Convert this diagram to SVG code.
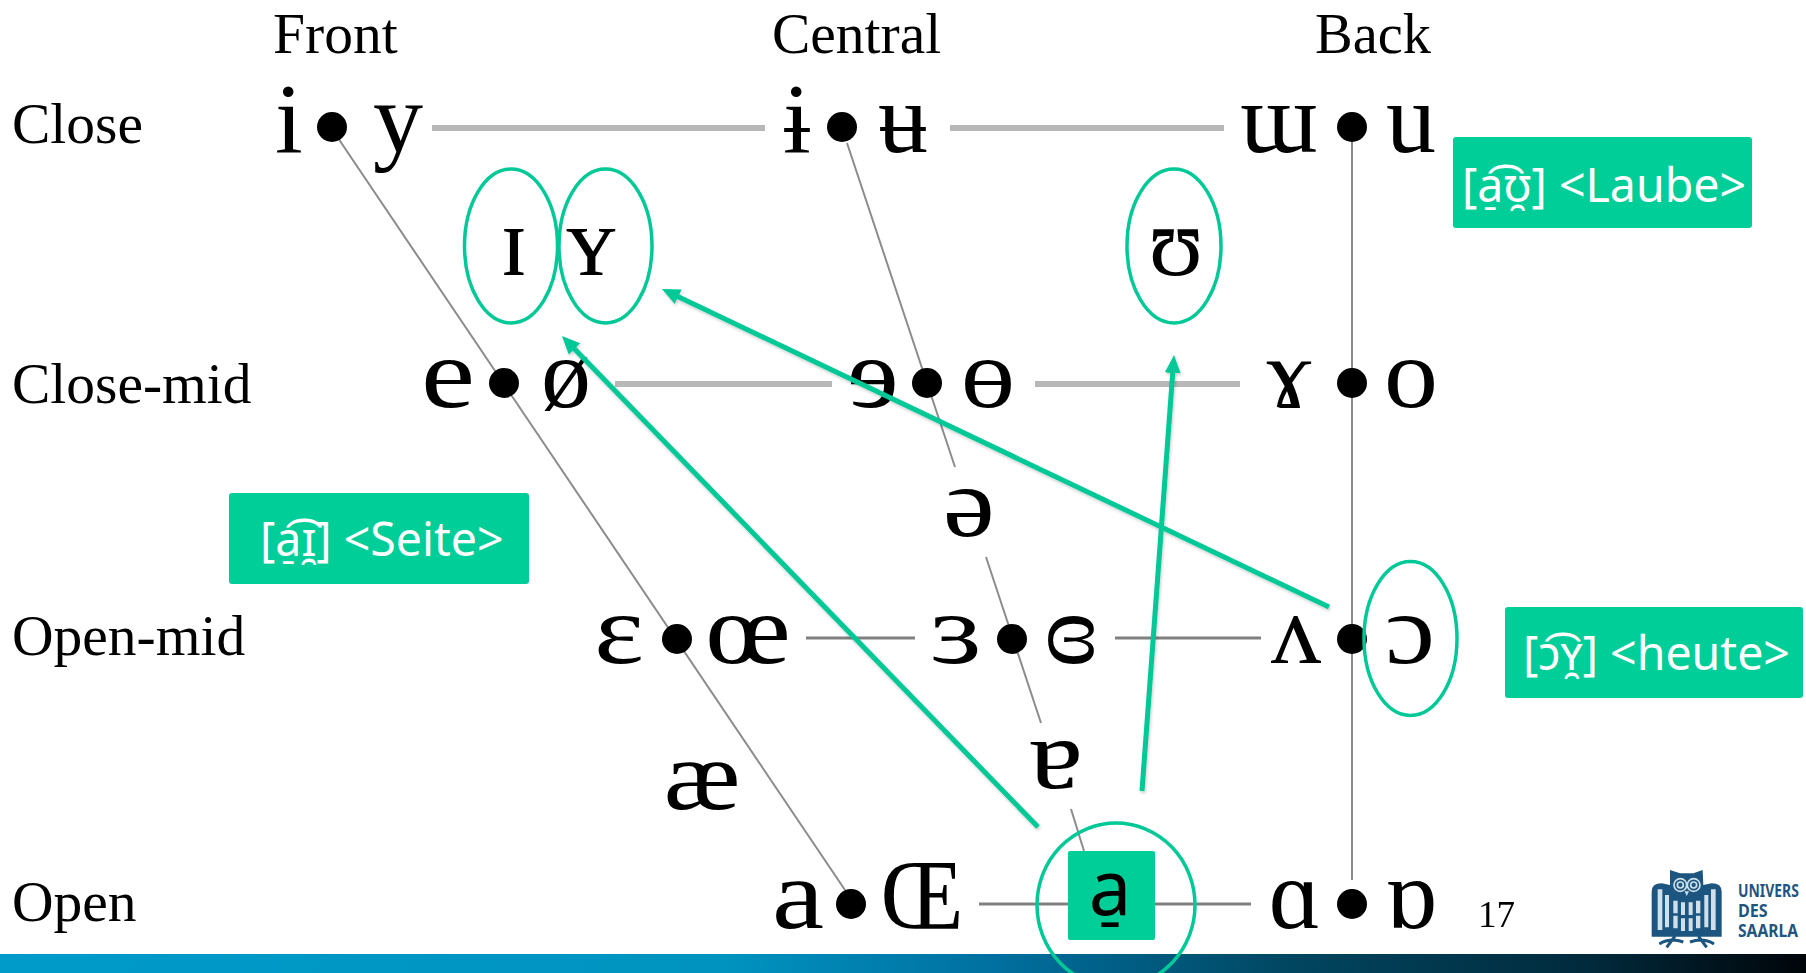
<svg xmlns="http://www.w3.org/2000/svg" width="1806" height="973" viewBox="0 0 1806 973">
<style>
.lab{font-family:"Liberation Serif","Times New Roman",serif;font-size:57.5px;fill:#000}
.ipa{font-family:"Liberation Serif","DejaVu Serif",serif;font-size:100px;fill:#000;text-anchor:middle}
.num{font-family:"Liberation Serif",serif;font-size:37px;fill:#000}
.dot{fill:#000}
.thick{stroke:#b8b8b8;stroke-width:6;fill:none}
.mid{stroke:#808080;stroke-width:3;fill:none}
.thin{stroke:#8c8c8c;stroke-width:2;fill:none}
.ell{fill:none;stroke:#00c897;stroke-width:3.5}
.arr{stroke:#00c897;stroke-width:5;fill:none;marker-end:url(#head)}
.box{fill:#00ce98}
.tag{font-family:"Noto Sans","Open Sans",sans-serif;font-size:46.5px;fill:#fff}
.logo{font-family:"Noto Sans","Open Sans",sans-serif;font-weight:700;font-size:17px;fill:#1f5580}
</style>
<defs>
<marker id="head" markerUnits="userSpaceOnUse" markerWidth="24" markerHeight="20" refX="4" refY="10" orient="auto" viewBox="0 0 24 20"><path d="M0,2 L18,10 L0,18 Z" fill="#00c897"/></marker>
<linearGradient id="bar" x1="0" y1="0" x2="1" y2="0"><stop offset="0" stop-color="#009bc9"/><stop offset=".4" stop-color="#0093c0"/><stop offset=".55" stop-color="#0070a0"/><stop offset=".72" stop-color="#01455f"/><stop offset=".88" stop-color="#012a3c"/><stop offset="1" stop-color="#000509"/></linearGradient>
<filter id="soft" x="-2%" y="-2%" width="104%" height="104%"><feGaussianBlur stdDeviation="0.6"/></filter>
<filter id="shade" x="-5%" y="-5%" width="110%" height="110%"><feDropShadow dx="1" dy="2" stdDeviation="1.5" flood-color="#000" flood-opacity=".2"/></filter>
</defs>
<rect width="1806" height="973" fill="#fff"/>
<rect id="footer-bar" x="0" y="954" width="1806" height="19" fill="url(#bar)"/>
<g id="connectors-chart" filter="url(#soft)">
<path class="thick" d="M432,128H765M950,128H1224M615,384H832M1035,384H1240"/>
<path class="mid" d="M806,638H915M1115,638H1261M979,904H1251"/>
<path class="thin" d="M1352,142V880M338,138L845,890M847,143L955,467M986,557L1041,723M1071,809L1084,851"/>
</g>
<g filter="url(#soft)">
<g id="headers"><text class="lab" x="273" y="53">Front</text><text class="lab" x="772" y="53">Central</text><text class="lab" x="1315" y="53" textLength="116" lengthAdjust="spacingAndGlyphs">Back</text></g>
<g id="rows"><text class="lab" x="12" y="143">Close</text><text class="lab" x="12" y="403">Close-mid</text><text class="lab" x="12" y="655">Open-mid</text><text class="lab" x="12" y="921">Open</text></g>
<g id="close-front"><text class="ipa" x="289" y="152">i</text><circle class="dot" cx="332" cy="127" r="15"/><text class="ipa" x="398" y="152">y</text></g>
<g id="close-central"><text class="ipa" x="797" y="152">ɨ</text><circle class="dot" cx="842" cy="127" r="15"/><text class="ipa" x="903" y="152">ʉ</text></g>
<g id="close-back"><text class="ipa" x="1279" y="152">ɯ</text><circle class="dot" cx="1352" cy="127" r="15"/><text class="ipa" x="1411" y="152">u</text></g>
<g id="nearclose"><text class="ipa" x="514" y="275">ɪ</text><text class="ipa" x="591" y="275">ʏ</text><text class="ipa" x="1176" y="275">ʊ</text></g>
<g id="closemid-front"><text class="ipa" x="448" y="407" textLength="54" lengthAdjust="spacingAndGlyphs">e</text><circle class="dot" cx="504" cy="383" r="15"/><text class="ipa" x="566" y="407">ø</text></g>
<g id="closemid-central"><text class="ipa" x="873" y="407" textLength="52" lengthAdjust="spacingAndGlyphs">ɘ</text><circle class="dot" cx="927" cy="383" r="15"/><text class="ipa" x="988" y="407" textLength="54" lengthAdjust="spacingAndGlyphs">ɵ</text></g>
<g id="closemid-back"><text class="ipa" x="1289" y="407">ɤ</text><circle class="dot" cx="1352" cy="383" r="15"/><text class="ipa" x="1411" y="407" textLength="54" lengthAdjust="spacingAndGlyphs">o</text></g>
<g id="schwa"><text class="ipa" x="969" y="536" textLength="52" lengthAdjust="spacingAndGlyphs">ə</text></g>
<g id="openmid-front"><text class="ipa" x="619" y="663" textLength="50" lengthAdjust="spacingAndGlyphs">ɛ</text><circle class="dot" cx="677" cy="639" r="15"/><text class="ipa" x="748" y="663" textLength="86" lengthAdjust="spacingAndGlyphs">œ</text></g>
<g id="openmid-central"><text class="ipa" x="956" y="663" textLength="52" lengthAdjust="spacingAndGlyphs">ɜ</text><circle class="dot" cx="1012" cy="639" r="15"/><text class="ipa" x="1071" y="663" textLength="54" lengthAdjust="spacingAndGlyphs">ɞ</text></g>
<g id="openmid-back"><text class="ipa" x="1296" y="663">ʌ</text><circle class="dot" cx="1352" cy="639" r="15"/><text class="ipa" x="1410" y="663" textLength="50" lengthAdjust="spacingAndGlyphs">ɔ</text></g>
<g id="nearopen"><text class="ipa" x="702" y="809" textLength="77" lengthAdjust="spacingAndGlyphs">æ</text><text class="ipa" x="1056" y="788" textLength="54" lengthAdjust="spacingAndGlyphs">ɐ</text></g>
<g id="open-front"><text class="ipa" x="798" y="928" textLength="52" lengthAdjust="spacingAndGlyphs">a</text><circle class="dot" cx="851" cy="904" r="15"/><text class="ipa" x="922" y="928" textLength="83" lengthAdjust="spacingAndGlyphs">Œ</text></g>
<g id="open-back"><text class="ipa" x="1295" y="928">ɑ</text><circle class="dot" cx="1352" cy="904" r="15"/><text class="ipa" x="1411" y="928">ɒ</text></g>
<text id="page-number" class="num" x="1478" y="927">17</text>
</g>
<g id="tag-laube"><rect class="box" x="1453" y="137" width="299" height="91" rx="3"/><text class="tag" x="1462" y="202">[a̠͡ʊ̯] &lt;Laube&gt;</text></g>
<g id="tag-seite"><rect class="box" x="229" y="493" width="300" height="91" rx="3"/><text class="tag" x="260" y="556">[a̠͡ɪ̯] &lt;Seite&gt;</text></g>
<g id="tag-heute"><rect class="box" x="1505" y="607" width="298" height="91" rx="3"/><text class="tag" x="1523" y="670">[ɔ͡ʏ̯] &lt;heute&gt;</text></g>
<g id="start-vowel"><rect class="box" x="1068" y="851" width="87" height="89" rx="2"/><text x="1110" y="915" text-anchor="middle" font-family="'Noto Sans',sans-serif" font-size="76" fill="#000">a̠</text></g>
<g id="rings"><ellipse class="ell" cx="511" cy="246" rx="46.5" ry="77"/><ellipse class="ell" cx="605.5" cy="246" rx="46.5" ry="77"/><ellipse class="ell" cx="1174" cy="246" rx="47" ry="77"/><ellipse class="ell" cx="1410.5" cy="638.5" rx="46.5" ry="77"/><ellipse class="ell" cx="1116" cy="905" rx="79" ry="82"/></g>
<g id="connectors" filter="url(#shade)">
<line class="arr" x1="1038" y1="827" x2="571.7" y2="346"/>
<line class="arr" x1="1329" y1="607" x2="674.6" y2="295"/>
<line class="arr" x1="1142" y1="791" x2="1173" y2="369"/>
</g>
<g id="logo">
<g transform="translate(1620 850) scale(.3333)">
<path fill="#1c5680" d="M95,125Q95,100 125,100L150,105L150,60L180,70H220L248,60L250,105L275,100Q305,100 305,125V260H95Z"/>
<g fill="none" stroke="#cfe0ea" stroke-width="5"><circle cx="181" cy="105" r="19"/><circle cx="221" cy="105" r="19"/><circle cx="181" cy="105" r="9"/><circle cx="221" cy="105" r="9"/></g>
<path fill="#cfe0ea" d="M194,124H207L200,138ZM113,118h14v122h-14ZM135,135h12v97h-12ZM273,118h14v122h-14ZM253,135h12v97h-12ZM160,152h13v38h-13ZM183,157h12v38h-12ZM206,157h12v38h-12ZM228,152h13v38h-13ZM160,197h13v38h-13ZM183,205h12v38h-12ZM206,205h12v38h-12ZM228,197h13v38h-13Z"/>
<path fill="none" stroke="#1c5680" stroke-width="9" d="M165,258L140,292M118,282Q150,262 190,276M235,258L260,292M282,282Q250,262 210,276"/>
</g>
<text class="logo" transform="translate(1738 897) scale(.82 1)">UNIVERS</text><text class="logo" transform="translate(1738 917) scale(.95 1)">DES</text><text class="logo" transform="translate(1738 937) scale(.92 1)">SAARLA</text>
</g>
</svg>
